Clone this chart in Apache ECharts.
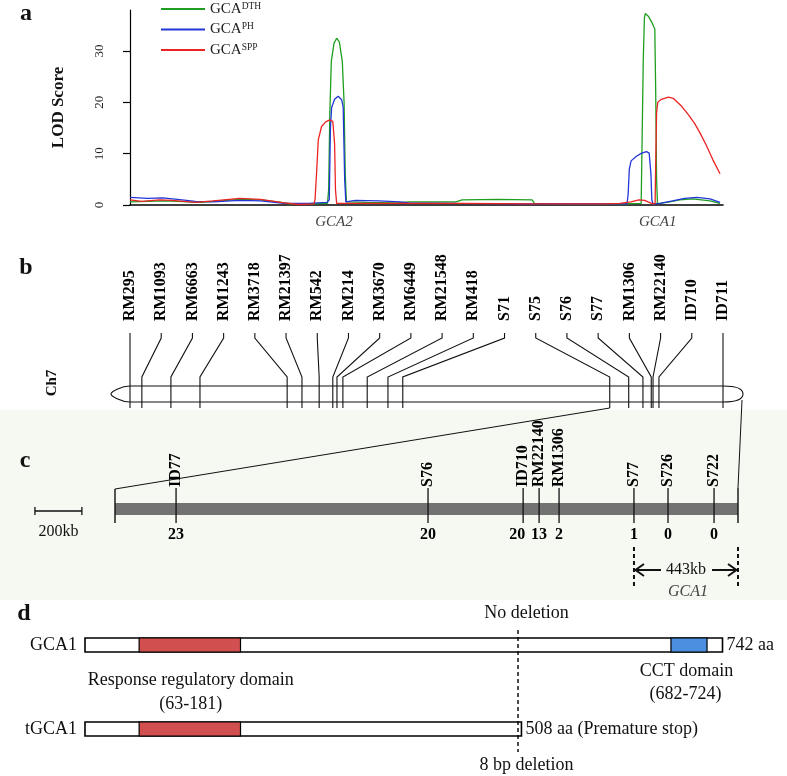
<!DOCTYPE html>
<html>
<head>
<meta charset="utf-8">
<title>GCA1 mapping</title>
<script src="https://cdn.jsdelivr.net/npm/echarts@6.0.0/dist/echarts.min.js"></script>
<style>
html,body{margin:0;padding:0;background:#ffffff;}
#chart{width:787px;height:776px;}
</style>
</head>
<body>
<div id="chart"></div>
<script>
// ===== Panel a: LOD profiles along chromosome 7 (x = relative map position, %) =====
const traits = ['DTH', 'PH', 'SPP'];
const lodDTH = [[0,0.6],[3,0.7],[6,0.8],[10,0.6],[12,0.5],[15,0.8],[18.5,1.1],[22,1.0],[25,0.6],[27,0.2],[30,0.2],[33.3,0.3],
  [33.5,3],[33.7,18],[33.95,28],[34.4,31.5],[34.85,32.5],[35.3,31.8],[35.8,28],[36.1,20],[36.3,6],[36.5,0.6],
  [40,0.5],[45,0.4],[47,0.6],[55,0.6],[56,1.0],[62,1.1],[67.8,1.0],[68.2,0.3],[75,0.2],[83,0.2],[86.2,0.3],
  [86.35,12],[86.55,28],[86.75,36.5],[86.9,37.3],[87.4,36.8],[88.0,35.6],[88.5,34.3],[88.65,22],[88.8,5],[88.95,0.3],
  [89.4,0.3],[91,0.6],[92.7,1.0],[94.9,1.2],[97.8,0.8],[99.5,0.3]];
const lodPH = [[0,1.5],[3,1.3],[5.5,1.4],[8,1.1],[11,0.7],[14,0.6],[18.5,0.9],[22,0.8],[26,0.3],[30,0.3],[33.2,0.5],
  [33.6,1],[33.8,15],[34.0,19],[34.5,20.6],[35.1,21.2],[35.7,20.5],[35.95,19],[36.2,5],[36.4,0.6],
  [38,0.9],[42,0.8],[45.5,0.6],[47,0.4],[55,0.3],[68,0.2],[83.8,0.2],
  [84.0,2],[84.2,7],[84.5,8.6],[85.4,9.5],[86.3,10.1],[87.1,10.4],[87.55,10.1],[87.85,6],[88.0,1],[88.2,0.2],
  [89.4,0.3],[91.5,0.8],[93.5,1.3],[95.6,1.5],[97.8,1.2],[99.5,0.5]];
const lodSPP = [[0,1.0],[2,0.7],[5,1.0],[7,0.9],[11,0.5],[14,0.8],[18.5,1.3],[22,1.1],[26,0.4],[28.5,0.1],[31.0,0.2],
  [31.2,1],[31.5,7],[31.75,12.7],[32.3,15.3],[33.0,16.2],[33.7,16.6],[34.2,16.3],[34.5,12],[34.65,3],[34.85,0.3],
  [40,0.3],[47,0.3],[56,0.3],[68,0.2],[80,0.2],[82.6,0.3],[84.5,0.6],[85.8,1.0],[86.8,0.9],[87.35,0.6],[88.2,0.2],[88.55,0.3],
  [88.65,8],[88.8,18],[89.0,20],[89.6,20.6],[90.8,21.0],[91.6,20.8],[92.9,19.4],[94.15,17.6],[95.2,15.9],[96.1,14.1],
  [97.2,11.6],[98.3,8.8],[99.5,6.1]];
const lodTicks = [0, 10, 20, 30];
const qtlNames = ['GCA2', 'GCA1'];
const qtlPos = [34.4, 89.0];

// ===== Panel b: linkage map of Ch7 (marker order, position %) =====
const mapMarkers = ['RM295','RM1093','RM6663','RM1243','RM3718','RM21397','RM542','RM214','RM3670','RM6449',
  'RM21548','RM418','S71','S75','S76','S77','RM1306','RM22140','ID710','ID711'];
const mapPos = [0, 2.0, 6.9, 11.8, 26.5, 29.0, 31.9, 34.2, 34.9, 35.9, 40.0, 43.5, 46.0, 80.9, 84.1, 86.5, 87.9, 88.2, 89.2, 100];
const zoomFrom = 'S75';

// ===== Panel c: fine map (kb) and recombinant counts =====
const fineMarkers = ['ID77','S76','ID710','RM22140','RM1306','S77','S726','S722'];
const fineKb = [260, 1333, 1738, 1806, 1891, 2210, 2355, 2551];
const recombinants = [23, 20, 20, 13, 2, 1, 0, 0];
const regionKb = 2653;
const scaleBarKb = 200;
const gca1Kb = [2210, 2653];

// ===== Panel d: protein structures (aa) =====
const proteins = ['GCA1', 'tGCA1'];
const proteinAa = [742, 508];
const rrDomain = [63, 181];
const cctDomain = [682, 724];
const deletionAa = 504;

// ===== layout =====
const SERIF = '"Liberation Serif","Times New Roman",serif';
const INK = '#111111';
const A = {left:130, top:10, width:593, height:195};
const B = {left:130, top:322, width:593, height:167};
const C = {left:115, top:410, width:623, height:190};
const D = {left:85, top:600, width:637.5, height:176};
const BY = {label:0, stub:11, knee1:16, knee2:55, chromTop:64, chromBottom:80, lineBottom:86, zoomBottom:167};
const CY = {labelBase:77, tickTop:78, tickBottom:113, barTop:93, barBottom:105, count:125, scale:101, scaleLabel:122,
  dashTop:137, dashBottom:177, arrow:160, gene:182};
const DY = {noDel:13, rows:[[38,52],[122,136]], cct:71, cctRange:94, rr:80, rrRange:104, bp:165, dashTop:30, dashBottom:152};
const colors = {DTH:'#1f9e1f', PH:'#2236d8', SPP:'#ec2323'};

const chart = echarts.init(document.getElementById('chart'));

const hiddenX = (g, min, max) => ({gridIndex:g, type:'value', min, max, show:false});
const hiddenY = (g, h) => ({gridIndex:g, type:'value', min:0, max:h, inverse:true, show:false});

function lodSeries(trait, data) {
  return {name:'GCA' + trait, type:'line', xAxisIndex:0, yAxisIndex:0, data, symbol:'none', showSymbol:false, smooth:false,
    lineStyle:{color:colors[trait], width:1.3}, itemStyle:{color:colors[trait]}, animation:false};
}

const bLeftEdge = (C.left - B.left) / B.width * 100;
const bRightEdge = (C.left + C.width - B.left) / B.width * 100;

const option = {
  backgroundColor:'#ffffff',
  animation:false,
  textStyle:{fontFamily:SERIF},
  legend:{
    data:traits.map(t => ({name:'GCA' + t, icon:'rect'})), orient:'vertical', left:156, top:-4,
    itemWidth:44, itemHeight:2, itemGap:4.5,
    formatter: n => 'GCA{s|' + n.slice(3) + '}',
    textStyle:{fontFamily:SERIF, fontSize:15, color:'#222', lineHeight:16,
      rich:{s:{fontFamily:SERIF, fontSize:9.5, color:'#222', verticalAlign:'top', lineHeight:10}}},
    selectedMode:false
  },
  grid:[
    Object.assign({outerBoundsMode:'none'}, A),
    Object.assign({outerBoundsMode:'none'}, B),
    Object.assign({outerBoundsMode:'none'}, C),
    Object.assign({outerBoundsMode:'none'}, D)
  ],
  xAxis:[
    {gridIndex:0, type:'value', min:0, max:100, splitLine:{show:false},
      axisLine:{lineStyle:{color:'#000', width:1.6}}, axisTick:{show:false},
      axisLabel:{customValues:qtlPos, formatter:v => qtlNames[qtlPos.indexOf(v)] || '', margin:10,
        fontFamily:SERIF, fontStyle:'italic', fontSize:15, color:'#444'}},
    hiddenX(1, 0, 100),
    hiddenX(2, 0, regionKb),
    hiddenX(3, 0, proteinAa[0])
  ],
  yAxis:[
    {gridIndex:0, type:'value', min:0, max:38, splitLine:{show:false},
      axisLine:{show:true, lineStyle:{color:'#000', width:1.2}},
      axisTick:{show:true, length:7, customValues:lodTicks, lineStyle:{color:'#000', width:1.2}},
      axisLabel:{customValues:lodTicks, rotate:90, margin:24, fontFamily:SERIF, fontSize:13, color:'#222'},
      name:'LOD Score', nameLocation:'middle', nameRotate:90, nameGap:63,
      nameTextStyle:{fontFamily:SERIF, fontWeight:'bold', fontSize:17, color:'#111'}},
    hiddenY(1, B.height),
    hiddenY(2, C.height),
    hiddenY(3, D.height)
  ],
  graphic:[
    {type:'rect', z:-10, silent:true, shape:{x:0, y:C.top, width:787, height:C.height}, style:{fill:'#f5f9f2'}},
    {type:'text', x:26, y:14, style:{text:'a', font:'bold 24px ' + SERIF, fill:INK, textAlign:'center', textVerticalAlign:'middle'}},
    {type:'text', x:26, y:268, style:{text:'b', font:'bold 24px ' + SERIF, fill:INK, textAlign:'center', textVerticalAlign:'middle'}},
    {type:'text', x:25, y:461, style:{text:'c', font:'bold 24px ' + SERIF, fill:INK, textAlign:'center', textVerticalAlign:'middle'}},
    {type:'text', x:24, y:614, style:{text:'d', font:'bold 24px ' + SERIF, fill:INK, textAlign:'center', textVerticalAlign:'middle'}},
    {type:'text', x:52, y:383, rotation:Math.PI/2, style:{text:'Ch7', font:'bold 15px ' + SERIF, fill:INK, textAlign:'center', textVerticalAlign:'middle'}}
  ],
  series:[
    lodSeries('DTH', lodDTH),
    lodSeries('PH', lodPH),
    lodSeries('SPP', lodSPP),

    // ---- b: chromosome body ----
    {type:'custom', xAxisIndex:1, yAxisIndex:1, clip:false, silent:true, data:[[0, 100]],
      renderItem:(p, api) => {
        const a = api.coord([api.value(0), BY.chromTop]);
        const b = api.coord([api.value(1), BY.chromBottom]);
        const xl = a[0], xr = b[0], yt = a[1], yb = b[1], ym = (yt + yb) / 2, capL = 19, capR = 20;
        const d = `M${xl} ${yt} L${xr} ${yt} C${xr+13} ${yt} ${xr+capR} ${ym-5} ${xr+capR} ${ym} ` +
          `C${xr+capR} ${ym+5} ${xr+13} ${yb} ${xr} ${yb} L${xl} ${yb} ` +
          `C${xl-9} ${yb} ${xl-capL} ${ym+2} ${xl-capL} ${ym} C${xl-capL} ${ym-2} ${xl-9} ${yt} ${xl} ${yt} Z`;
        return {type:'path', shape:{pathData:d}, style:{fill:'#ffffff', stroke:INK, lineWidth:1.1}};
      }},
    // ---- b: marker labels and connectors ----
    {type:'custom', xAxisIndex:1, yAxisIndex:1, clip:false, silent:true,
      data:mapMarkers.map((m, i) => [i * 100 / (mapMarkers.length - 1), mapPos[i]]),
      renderItem:(p, api) => {
        const lx = api.value(0), cx = api.value(1);
        const c = (x, y) => api.coord([x, y]);
        const t = c(lx, BY.label);
        return {type:'group', children:[
          {type:'polyline', shape:{points:[c(lx, BY.stub), c(lx, BY.knee1), c(cx, BY.knee2), c(cx, BY.lineBottom)]},
            style:{stroke:INK, lineWidth:1.1, fill:'none'}},
          {type:'text', x:t[0], y:t[1] - 1, rotation:Math.PI/2,
            style:{text:mapMarkers[p.dataIndex], font:'bold 16px ' + SERIF, fill:'#000', textAlign:'left', textVerticalAlign:'middle'}}
        ]};
      }},
    // ---- b -> c zoom lines ----
    {type:'custom', xAxisIndex:1, yAxisIndex:1, clip:false, silent:true,
      data:[[mapPos[mapMarkers.indexOf(zoomFrom)], mapPos[mapPos.length - 1]]],
      renderItem:(p, api) => {
        const from = api.coord([api.value(0), BY.lineBottom]);
        const toL = api.coord([bLeftEdge, BY.zoomBottom]);
        const cap = api.coord([api.value(1), BY.chromBottom - 2]);
        const toR = api.coord([bRightEdge, BY.zoomBottom - 1]);
        return {type:'group', children:[
          {type:'line', shape:{x1:from[0], y1:from[1], x2:toL[0], y2:toL[1]}, style:{stroke:INK, lineWidth:1}},
          {type:'line', shape:{x1:cap[0] + 19, y1:cap[1], x2:toR[0], y2:toR[1]}, style:{stroke:INK, lineWidth:1}}
        ]};
      }},

    // ---- c: region bar ----
    {type:'custom', xAxisIndex:2, yAxisIndex:2, clip:false, silent:true, data:[[0, regionKb]],
      renderItem:(p, api) => {
        const a = api.coord([api.value(0), CY.barTop]);
        const b = api.coord([api.value(1), CY.barBottom]);
        const t0 = api.coord([api.value(0), CY.tickTop + 1]);
        const t1 = api.coord([api.value(1), CY.tickTop]);
        const bt = api.coord([0, CY.tickBottom])[1];
        return {type:'group', children:[
          {type:'rect', shape:{x:a[0], y:a[1], width:b[0] - a[0], height:b[1] - a[1]}, style:{fill:'#727272'}},
          {type:'line', shape:{x1:t0[0], y1:t0[1], x2:t0[0], y2:bt}, style:{stroke:INK, lineWidth:1.4}},
          {type:'line', shape:{x1:t1[0], y1:t1[1], x2:t1[0], y2:bt}, style:{stroke:INK, lineWidth:1.4}}
        ]};
      }},
    // ---- c: markers + recombinant counts ----
    {type:'custom', xAxisIndex:2, yAxisIndex:2, clip:false, silent:true,
      data:fineMarkers.map((m, i) => [fineKb[i], recombinants[i]]),
      renderItem:(p, api) => {
        const i = p.dataIndex;
        const top = api.coord([api.value(0), CY.tickTop]);
        const bot = api.coord([api.value(0), CY.tickBottom]);
        const lab = api.coord([api.value(0), CY.labelBase]);
        const cnt = api.coord([api.value(0), CY.count]);
        let shift = 0;
        if (i < fineKb.length - 1) {
          const nx = api.coord([fineKb[i + 1], 0])[0];
          if (nx - top[0] < 17) shift = -6;
        }
        return {type:'group', children:[
          {type:'line', shape:{x1:top[0], y1:top[1], x2:bot[0], y2:bot[1]}, style:{stroke:INK, lineWidth:1.3}},
          {type:'text', x:lab[0], y:lab[1], rotation:Math.PI/2,
            style:{text:fineMarkers[i], font:'bold 16px ' + SERIF, fill:'#000', textAlign:'left', textVerticalAlign:'middle'}},
          {type:'text', x:cnt[0] + shift, y:cnt[1],
            style:{text:String(recombinants[i]), font:'bold 16px ' + SERIF, fill:'#000', textAlign:'center', textVerticalAlign:'middle'}}
        ]};
      }},
    // ---- c: scale bar ----
    {type:'custom', xAxisIndex:2, yAxisIndex:2, clip:false, silent:true, data:[[-341, -341 + scaleBarKb]],
      renderItem:(p, api) => {
        const a = api.coord([api.value(0), CY.scale]);
        const b = api.coord([api.value(1), CY.scale]);
        const l = api.coord([(api.value(0) + api.value(1)) / 2, CY.scaleLabel]);
        return {type:'group', children:[
          {type:'line', shape:{x1:a[0], y1:a[1], x2:b[0], y2:b[1]}, style:{stroke:INK, lineWidth:1.3}},
          {type:'line', shape:{x1:a[0], y1:a[1] - 4, x2:a[0], y2:a[1] + 4}, style:{stroke:INK, lineWidth:1.3}},
          {type:'line', shape:{x1:b[0], y1:b[1] - 4, x2:b[0], y2:b[1] + 4}, style:{stroke:INK, lineWidth:1.3}},
          {type:'text', x:l[0], y:l[1], style:{text:scaleBarKb + 'kb', font:'16px ' + SERIF, fill:INK, textAlign:'center', textVerticalAlign:'middle'}}
        ]};
      }},
    // ---- c: GCA1 interval ----
    {type:'custom', xAxisIndex:2, yAxisIndex:2, clip:false, silent:true, data:[[gca1Kb[0], gca1Kb[1]]],
      renderItem:(p, api) => {
        const a = api.coord([api.value(0), CY.dashTop]);
        const b = api.coord([api.value(1), CY.dashTop]);
        const yb = api.coord([0, CY.dashBottom])[1];
        const ya = api.coord([0, CY.arrow])[1];
        const yg = api.coord([0, CY.gene])[1];
        const mid = (a[0] + b[0]) / 2;
        const st = {stroke:INK, lineWidth:2, fill:'none'};
        return {type:'group', children:[
          {type:'line', shape:{x1:a[0], y1:a[1], x2:a[0], y2:yb}, style:{stroke:INK, lineWidth:2, lineDash:[4, 3]}},
          {type:'line', shape:{x1:b[0], y1:b[1], x2:b[0], y2:yb}, style:{stroke:INK, lineWidth:2, lineDash:[4, 3]}},
          {type:'line', shape:{x1:a[0] + 1, y1:ya, x2:mid - 25, y2:ya}, style:st},
          {type:'polyline', shape:{points:[[a[0] + 10, ya - 6], [a[0] + 1.5, ya], [a[0] + 10, ya + 6]]}, style:st},
          {type:'line', shape:{x1:mid + 26, y1:ya, x2:b[0] - 1, y2:ya}, style:st},
          {type:'polyline', shape:{points:[[b[0] - 10, ya - 6], [b[0] - 1.5, ya], [b[0] - 10, ya + 6]]}, style:st},
          {type:'text', x:mid, y:ya, style:{text:(api.value(1) - api.value(0)) + 'kb', font:'16px ' + SERIF, fill:INK, textAlign:'center', textVerticalAlign:'middle'}},
          {type:'text', x:mid + 2, y:yg, style:{text:'GCA1', font:'italic 16px ' + SERIF, fill:'#444', textAlign:'center', textVerticalAlign:'middle'}}
        ]};
      }},

    // ---- d: protein bars ----
    {type:'custom', xAxisIndex:3, yAxisIndex:3, clip:false, silent:true,
      data:proteins.map((n, i) => [proteinAa[i], i]),
      renderItem:(p, api) => {
        const i = p.dataIndex, len = api.value(0);
        const [t, bm] = DY.rows[i];
        const a = api.coord([0, t]), b = api.coord([len, bm]);
        const h = b[1] - a[1];
        const kids = [
          {type:'rect', shape:{x:a[0], y:a[1], width:b[0] - a[0], height:h}, style:{fill:'#ffffff', stroke:'#000', lineWidth:1.6}}
        ];
        const dom = (r, fill) => {
          const s = api.coord([r[0], t]), e = api.coord([r[1], t]);
          kids.push({type:'rect', shape:{x:s[0], y:a[1], width:e[0] - s[0], height:h}, style:{fill, stroke:'#000', lineWidth:1.2}});
        };
        dom(rrDomain, '#d24f4f');
        if (len >= cctDomain[1]) dom(cctDomain, '#4a8fe0');
        const ym = (a[1] + b[1]) / 2;
        kids.push({type:'text', x:a[0] - 8, y:ym, style:{text:proteins[i], font:'18px ' + SERIF, fill:INK, textAlign:'right', textVerticalAlign:'middle'}});
        kids.push({type:'text', x:b[0] + 4, y:ym, style:{text:len + ' aa' + (len < proteinAa[0] ? ' (Premature stop)' : ''),
          font:'18px ' + SERIF, fill:INK, textAlign:'left', textVerticalAlign:'middle'}});
        return {type:'group', children:kids};
      }},
    // ---- d: domain labels, deletion site ----
    {type:'custom', xAxisIndex:3, yAxisIndex:3, clip:false, silent:true, data:[[deletionAa, 0]],
      renderItem:(p, api) => {
        const x = api.value(0);
        const c = (v, y) => api.coord([v, y]);
        const t = (pt, text) => ({type:'text', x:pt[0], y:pt[1], style:{text, font:'18px ' + SERIF, fill:INK, textAlign:'center', textVerticalAlign:'middle'}});
        const top = c(x, DY.dashTop), bot = c(x, DY.dashBottom);
        const rrMid = (rrDomain[0] + rrDomain[1]) / 2, cctMid = (cctDomain[0] + cctDomain[1]) / 2;
        return {type:'group', children:[
          {type:'line', shape:{x1:top[0], y1:top[1], x2:bot[0], y2:bot[1]}, style:{stroke:'#000', lineWidth:1.4, lineDash:[4, 3]}},
          t(c(x + 10, DY.noDel), 'No deletion'),
          t(c(x + 10, DY.bp), '8 bp deletion'),
          t(c(rrMid + 1, DY.rr), 'Response regulatory domain'),
          t(c(rrMid + 1, DY.rrRange), '(' + rrDomain[0] + '-' + rrDomain[1] + ')'),
          t(c(cctMid - 3, DY.cct), 'CCT domain'),
          t(c(cctMid - 4, DY.cctRange), '(' + cctDomain[0] + '-' + cctDomain[1] + ')')
        ]};
      }}
  ]
};
chart.setOption(option);
</script>
</body>
</html>
